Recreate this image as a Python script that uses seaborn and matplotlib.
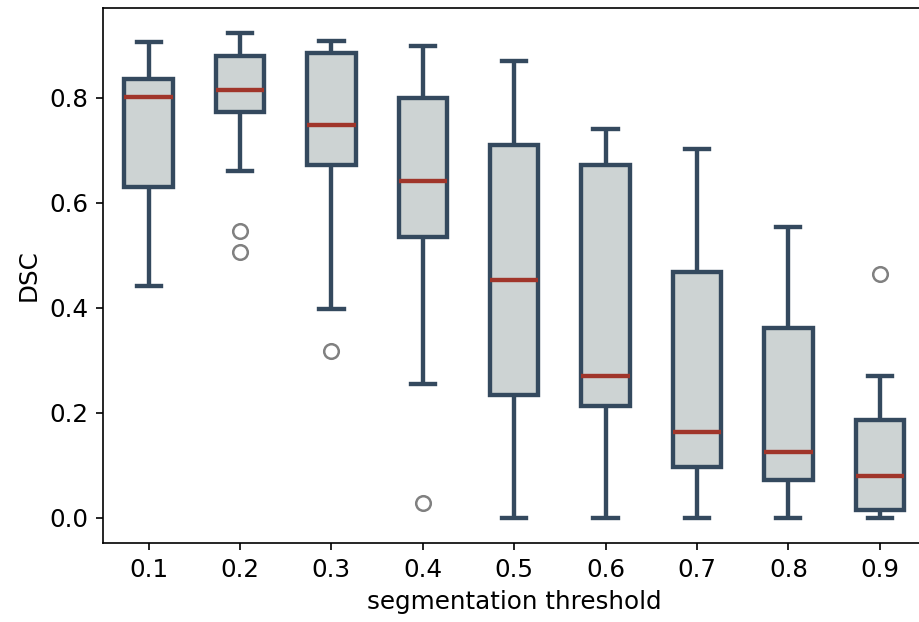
# Box plot of DSC against segmentation threshold

import numpy as np
import pandas as pd
import seaborn as sb
from matplotlib import pyplot as plt

THRESHOLDS = ["0.1", "0.2", "0.3", "0.4", "0.5", "0.6", "0.7", "0.8", "0.9"]

# per-threshold DSC values (13 cases each)
DSC_01 = [0.441, 0.52, 0.60, 0.630, 0.70, 0.76, 0.802, 0.81, 0.82, 0.836, 0.86, 0.88, 0.907]
DSC_02 = [0.506, 0.547, 0.660, 0.774, 0.79, 0.80, 0.815, 0.84, 0.86, 0.879, 0.89, 0.91, 0.924]
DSC_03 = [0.317, 0.398, 0.55, 0.672, 0.70, 0.72, 0.749, 0.80, 0.85, 0.885, 0.89, 0.90, 0.908]
DSC_04 = [0.029, 0.255, 0.45, 0.535, 0.58, 0.61, 0.641, 0.70, 0.75, 0.799, 0.83, 0.87, 0.898]
DSC_05 = [0.0, 0.10, 0.18, 0.233, 0.32, 0.40, 0.453, 0.55, 0.65, 0.710, 0.76, 0.82, 0.870]
DSC_06 = [0.0, 0.08, 0.15, 0.213, 0.23, 0.25, 0.271, 0.40, 0.55, 0.672, 0.70, 0.72, 0.740]
DSC_07 = [0.0, 0.03, 0.07, 0.0965, 0.12, 0.14, 0.163, 0.25, 0.38, 0.469, 0.55, 0.63, 0.702]
DSC_08 = [0.0, 0.02, 0.05, 0.072, 0.09, 0.11, 0.126, 0.20, 0.30, 0.361, 0.42, 0.50, 0.554]
DSC_09 = [0.0, 0.005, 0.01, 0.015, 0.04, 0.06, 0.080, 0.12, 0.16, 0.187, 0.22, 0.270, 0.465]

ALL_DSC = [DSC_01, DSC_02, DSC_03, DSC_04, DSC_05, DSC_06, DSC_07, DSC_08, DSC_09]

FACE = "#cdd3d3"
EDGE = "#34495e"
MEDIAN = "#a0352a"
FS = 11.8

df = pd.DataFrame(
    [(thr, v) for thr, vals in zip(THRESHOLDS, ALL_DSC) for v in vals],
    columns=["threshold", "dsc"],
)

fig = plt.figure(figsize=(919 / 150, 622 / 150), dpi=150)
ax = fig.add_axes([0.112, 0.127, 1.007 - 0.112, 0.987 - 0.127])

sb.boxplot(data=df, x="threshold", y="dsc", order=THRESHOLDS, ax=ax,
           color=FACE, saturation=1, linecolor=EDGE, linewidth=2.1, width=0.53,
           medianprops=dict(color=MEDIAN, linewidth=2.1),
           flierprops=dict(marker="o", markersize=7, markerfacecolor="none",
                           markeredgecolor="#808080", markeredgewidth=1.2))

ax.set_xlim(-0.5, 8.5)
ax.set_ylim(-0.048, 0.971)
ax.set_yticks([0.0, 0.2, 0.4, 0.6, 0.8])
ax.set_yticklabels(["0.0", "0.2", "0.4", "0.6", "0.8"])
ax.spines["right"].set_visible(False)
ax.set_xlabel("segmentation threshold", fontsize=FS)
ax.set_ylabel("DSC", fontsize=FS)
ax.tick_params(labelsize=FS)

plt.savefig("out.png", dpi=150)
